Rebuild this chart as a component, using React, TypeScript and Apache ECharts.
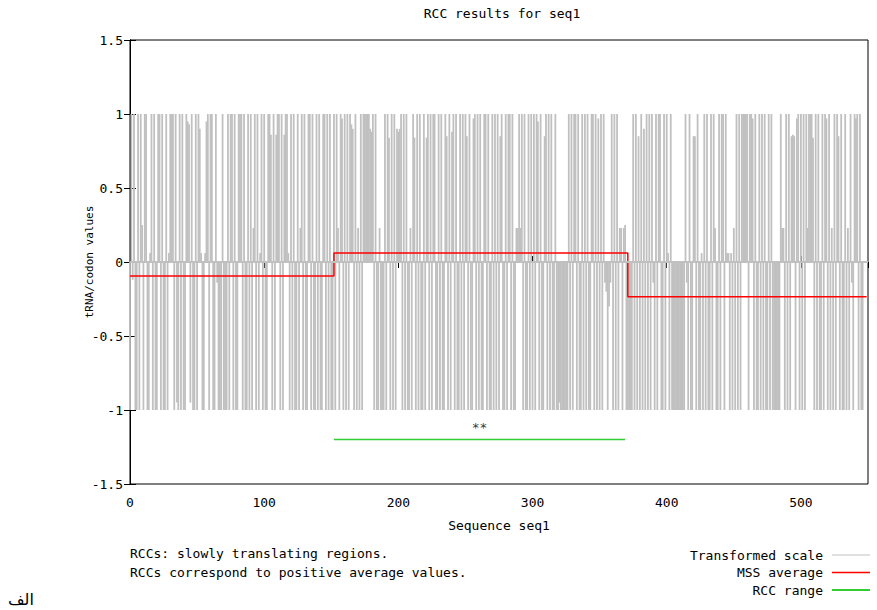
import React, { useEffect, useRef } from "react";
import * as echarts from "echarts";

// Transformed scale values, one per codon position (index = position)
const transformed: number[] = [
  -1, 1, -0.12, 1, -1, -1, 1, -1, 1, 0.25,
  -1, 1, 1, -1, -1, 0.06, 1, -1, 1, -1,
  -1, 1, 1, -1, 1, -1, -1, 1, -1, 0.06,
  1, 1, 1, -1, 1, -0.95, -1, 1, -1, 1,
  -1, -1, 1, 0.95, 0.93, -0.95, 1, -1, -1, 1,
  -1, 1, 0.9, 0.06, -1, -1, 0.06, 0.95, 1, -1,
  1, 1, -1, -1, 1, -0.14, -1, -1, -1, 1,
  -1, -1, -1, 1, -1, 1, 1, -1, 1, -1,
  -1, 1, 1, 1, -1, 1, -1, -1, 1, -1,
  1, -1, 0.23, 1, -1, 1, -1, 0.06, 1, -1,
  1, -1, -1, 1, 1, 0.86, -1, 1, -1, 0.86,
  1, 1, -1, 1, -1, 0.86, 1, 1, 0.06, -1,
  1, -1, 1, -1, -1, 1, -1, 0.23, 1, -1,
  1, -1, -1, 1, 1, -1, 1, -1, -1, 1,
  -1, 1, -1, -1, 1, 1, -1, 1, -1, 1,
  -1, -1, 1, -1, 1, 0.23, -1, 1, 0.97, -1,
  1, -1, 1, -1, 1, 0.93, 0.9, -1, 1, -1,
  0.23, -1, 1, -1, 1, 1, 1, 1, 1, 0.9,
  0.88, 1, -1, 1, -1, -1, 0.23, -1, -1, -1,
  1, -1, 1, 0.84, -1, 1, -1, 1, -1, 0.9,
  0.88, 0.9, 1, -1, 1, -1, 1, -1, -1, 0.23,
  -1, 1, 0.84, -1, 1, -1, 1, -1, -1, 1,
  -1, 0.84, 1, -1, 1, -1, 1, 1, -1, -1,
  1, -1, 1, -1, -1, 1, 0.85, -1, 1, -1,
  0.88, 1, -1, 1, -1, -1, 1, -1, 1, -1,
  1, 0.85, -1, 1, -1, -1, 0.97, 1, -1, 1,
  -1, 1, -1, -1, 1, 1, -1, 1, -1, -1,
  1, -1, 1, -1, 1, -1, 0.85, 1, -1, -1,
  1, -1, 1, 1, -1, 1, -1, -1, 0.23, 0.23,
  1, 0.23, 1, -1, 1, -1, -1, 1, -1, 1,
  -1, 1, -1, 1, 0.95, -1, 1, -1, -1, 0.85,
  1, -1, 1, -1, 1, -1, -1, 1, -1, -1,
  -0.95, -1, -1, -1, -1, -1, -1, 1, -1, 1,
  -1, 1, 1, -1, 1, -1, -1, 1, -1, 1,
  -1, 1, -1, -1, 1, 1, -1, 1, -1, 0.97,
  -1, 1, -1, 1, -0.14, -0.2, -1, -0.3, -0.14, 1,
  -1, 1, -1, 1, -1, 0.23, 0.23, -1, 0.23, 0.25,
  -1, -1, -1, -1, -1, 1, -1, 1, -1, 0.85,
  -1, 1, -1, 0.9, -1, 1, -1, 1, -1, 1,
  -0.14, -1, 1, -1, 1, 1, -1, -1, 1, -1,
  1, 0.06, -1, 1, -1, -1, -1, -1, -1, -1,
  -1, -1, -1, -1, 1, -0.14, -1, 1, -1, -1,
  0.85, 0.85, -1, 1, -1, -1, 0.06, -1, 1, -1,
  1, -1, -1, 1, -1, 1, 0.23, -1, -1, 1,
  -1, 1, 1, -1, 1, 0.06, 0.06, -1, 0.06, -1,
  0.23, -1, 1, -1, 1, -1, 1, 1, 1, 1,
  1, -1, 1, 1, 0.97, -1, 1, -1, -1, 1,
  -1, 1, -1, 1, -1, -1, 1, -1, 1, -1,
  -1, -1, -1, -1, -1, 1, 0.23, 0.23, -1, 1,
  -1, 1, -1, 0.85, 0.86, 0.85, -1, 0.97, 1, -1,
  1, -1, 1, -1, 1, 0.23, 1, 1, 1, 0.84,
  -1, 1, -1, 1, -1, -1, 1, -1, 1, 0.97,
  -1, 1, -1, 0.23, -1, 1, -1, 1, 0.85, -1,
  1, -1, -1, 1, -1, 0.23, -1, 1, -0.14, -1,
  1, 0.97, 1, -1, 1, -1, -1,
];

// MSS average: piecewise constant segments
const mssStart: number[] = [0, 152, 371];
const mssEnd: number[] = [152, 371, 549];
const mssValue: number[] = [-0.095, 0.06, -0.235];

// RCC range
const rccStart: number[] = [152];
const rccEnd: number[] = [369];
const rccLevel = -1.2;
const rccMarkLevel = -1.2;

// small markers on the zero line
const zeroDots: number[] = [24, 75, 126, 176, 227, 277, 328, 379, 430, 481, 531];

const xTicks = { min: 0, max: 550, interval: 100 };
const yTicks = { min: -1.5, max: 1.5, interval: 0.5 };

const FONT = "DejaVu Sans Mono";

export default function App() {
  const ref = useRef<HTMLDivElement>(null);

  useEffect(() => {
    if (!ref.current) return;
    const chart = echarts.init(ref.current, undefined, { renderer: "svg" });

    const mssData: [number, number][] = [];
    mssStart.forEach((s, k) => {
      mssData.push([s, mssValue[k]]);
      mssData.push([mssEnd[k], mssValue[k]]);
    });

    const rccData: any[] = [];
    rccStart.forEach((s, k) => {
      if (k > 0) rccData.push([null, null]);
      rccData.push([s, rccLevel]);
      rccData.push([rccEnd[k], rccLevel]);
    });
    const starData = rccStart.map((s, k) => [(s + rccEnd[k]) / 2, rccMarkLevel]);

    const textBase = { fontFamily: FONT, fontSize: 13, color: "#000" };

    const legendItems = [
      { name: "Transformed scale", color: "#c0c0c0", width: 1 },
      { name: "MSS average", color: "#ff0000", width: 1.5 },
      { name: "RCC range", color: "#33cc33", width: 2 },
    ];

    const graphics: any[] = [];
    legendItems.forEach((it, k) => {
      const y = 555 + k * 17.5;
      graphics.push({
        type: "text",
        x: 823,
        y,
        style: { text: it.name, align: "right", verticalAlign: "middle", font: `13px "${FONT}"`, fill: "#000" },
      });
      graphics.push({
        type: "line",
        shape: { x1: 832, y1: y, x2: 870, y2: y },
        style: { stroke: it.color, lineWidth: it.width },
      });
    });
    graphics.push({
      type: "text",
      x: 130,
      y: 553,
      style: { text: "RCCs: slowly translating regions.", align: "left", verticalAlign: "middle", font: `13px "${FONT}"`, fill: "#000" },
    });
    graphics.push({
      type: "text",
      x: 130,
      y: 572,
      style: { text: "RCCs correspond to positive average values.", align: "left", verticalAlign: "middle", font: `13px "${FONT}"`, fill: "#000" },
    });
    graphics.push({
      type: "text",
      x: 8,
      y: 599,
      style: { text: "الف", align: "left", verticalAlign: "middle", font: `16px "DejaVu Sans"`, fill: "#000" },
    });

    const axisCommon = {
      type: "value" as const,
      axisLine: { show: true, lineStyle: { color: "#000", width: 1 } },
      axisTick: { show: true, inside: true, length: 6, lineStyle: { color: "#000" } },
      splitLine: { show: false },
    };

    chart.setOption({
      animation: false,
      backgroundColor: "#fff",
      title: {
        text: "RCC results for seq1",
        left: 497,
        top: 2,
        textAlign: "center",
        textStyle: { ...textBase, fontWeight: "normal" },
      },
      grid: {
        left: 130,
        right: 9,
        top: 40,
        bottom: 126,
        show: true,
        borderColor: "#000",
        borderWidth: 1,
        backgroundColor: "transparent",
      },
      xAxis: [
        {
          ...axisCommon,
          position: "bottom",
          min: xTicks.min,
          max: xTicks.max,
          interval: xTicks.interval,
          name: "Sequence seq1",
          nameLocation: "middle",
          nameGap: 35,
          nameMoveOverlap: false,
          nameTextStyle: { ...textBase },
          axisLabel: { ...textBase, margin: 12, showMaxLabel: false },
        },
        {
          ...axisCommon,
          position: "top",
          min: xTicks.min,
          max: xTicks.max,
          interval: xTicks.interval,
          axisLabel: { show: false },
        },
      ],
      yAxis: [
        {
          ...axisCommon,
          position: "left",
          min: yTicks.min,
          max: yTicks.max,
          interval: yTicks.interval,
          name: "tRNA/codon values",
          nameLocation: "middle",
          nameGap: 35,
          nameMoveOverlap: false,
          nameTextStyle: { ...textBase, fontSize: 11 },
          axisLabel: { ...textBase, margin: 7 },
        },
        {
          ...axisCommon,
          position: "right",
          min: yTicks.min,
          max: yTicks.max,
          interval: yTicks.interval,
          axisLabel: { show: false },
        },
      ],
      graphic: graphics,
      series: [
        {
          name: "Transformed scale",
          type: "bar",
          xAxisIndex: 0,
          yAxisIndex: 0,
          barWidth: 1.8,
          data: transformed.map((v, i) => [i, v]),
          itemStyle: { color: "#c0c0c0" },
          silent: true,
          markLine: {
            silent: true,
            symbol: "none",
            label: { show: false },
            lineStyle: { color: "#c0c0c0", width: 2, type: "solid" },
            data: [{ yAxis: 0 }],
          },
        },
        {
          name: "zero markers",
          type: "scatter",
          data: zeroDots.map((x) => [x, 0]),
          symbol: "rect",
          symbolSize: [2, 1.5],
          itemStyle: { color: "#000" },
          z: 3,
        },
        {
          name: "MSS average",
          type: "line",
          data: mssData,
          showSymbol: false,
          lineStyle: { color: "#ff0000", width: 1.5 },
          itemStyle: { color: "#ff0000" },
          z: 4,
        },
        {
          name: "RCC range",
          type: "line",
          data: rccData,
          showSymbol: false,
          connectNulls: false,
          lineStyle: { color: "#33cc33", width: 1.5 },
          itemStyle: { color: "#33cc33" },
          z: 4,
        },
        {
          name: "RCC marks",
          type: "scatter",
          data: starData,
          symbolSize: 0,
          label: {
            show: true,
            formatter: "**",
            position: "top",
            distance: 6,
            ...textBase,
          },
          z: 5,
        },
      ],
    });

    return () => chart.dispose();
  }, []);

  return (
    <div
      ref={ref}
      style={{ position: "fixed", left: 0, top: 0, width: 877, height: 610 }}
    />
  );
}
